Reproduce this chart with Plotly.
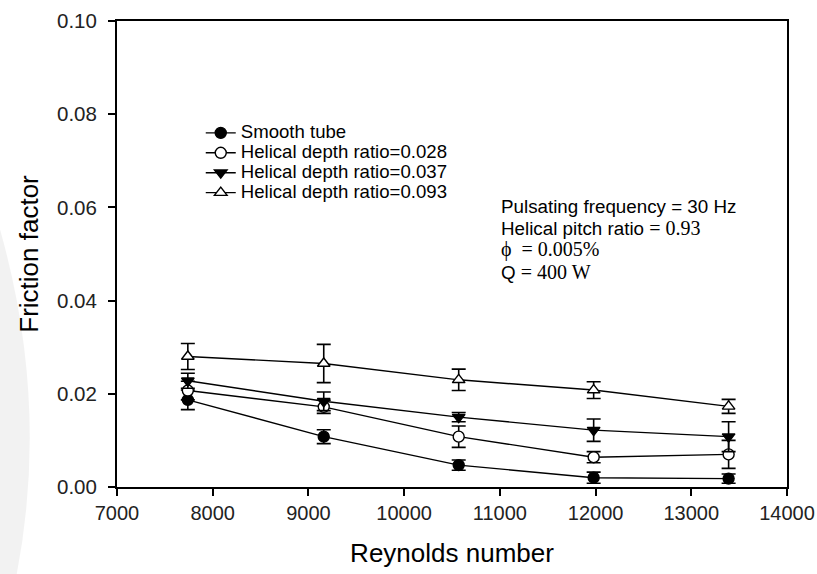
import plotly.graph_objects as go

# Reynolds numbers at which friction factor was measured
reynolds = [7740, 9160, 10570, 11980, 13390]

# Friction factor for each tube configuration
smooth = [0.0187, 0.0108, 0.0047, 0.0020, 0.0018]
depth_028 = [0.0207, 0.0172, 0.0108, 0.0064, 0.0070]
depth_037 = [0.0228, 0.0184, 0.0150, 0.0122, 0.0108]
depth_093 = [0.0280, 0.0265, 0.0230, 0.0208, 0.0173]

# Symmetric error bars (±)
smooth_err = [0.0021, 0.0015, 0.0011, 0.0012, 0.0010]
depth_028_err = [0.0020, 0.0014, 0.0023, 0.0012, 0.0030]
depth_037_err = [0.0016, 0.0020, 0.0010, 0.0024, 0.0032]
depth_093_err = [0.0028, 0.0041, 0.0023, 0.0018, 0.0015]

names = [
    "Smooth tube",
    "Helical depth ratio=0.028",
    "Helical depth ratio=0.037",
    "Helical depth ratio=0.093",
]
series = [smooth, depth_028, depth_037, depth_093]
errors = [smooth_err, depth_028_err, depth_037_err, depth_093_err]
symbols = ["circle", "circle", "triangle-down", "triangle-up"]
fills = ["black", "white", "black", "white"]

x_ticks = [7000, 8000, 9000, 10000, 11000, 12000, 13000, 14000]
y_ticks = [0.00, 0.02, 0.04, 0.06, 0.08, 0.10]

fig = go.Figure()
for name, ys, err, sym, fc in zip(names, series, errors, symbols, fills):
    fig.add_trace(go.Scatter(
        x=reynolds, y=ys, mode="lines+markers",
        name=f'<span style="font-size:18.6px">{name}</span>',
        line=dict(color="black", width=1.4),
        marker=dict(symbol=sym, size=11, color=fc,
                    line=dict(color="black", width=1.4)),
        error_y=dict(type="data", array=err, visible=True,
                     color="black", thickness=1.6, width=7),
    ))

# faint grey crescent along the left edge
fig.add_shape(
    type="path", xref="paper", yref="paper", layer="below",
    path=("M -0.176 0.56 Q -0.10 0.18 -0.150 -0.19 "
          "L -0.176 -0.19 Z"),
    fillcolor="rgba(0,0,0,0.05)", line=dict(width=0),
)

serif = ("font-family:'Liberation Serif','Times New Roman',serif;"
         "font-size:20px")
info_lines = [
    "Pulsating frequency = 30 Hz",
    f"Helical pitch ratio <span style=\"{serif}\">= 0.93</span>",
    f"<span style=\"{serif}\">ϕ  = 0.005%</span>",
    f"Q <span style=\"{serif}\">= 400 W</span>",
]
info_y = [0.0603, 0.0556, 0.0509, 0.0461]
for txt, yy in zip(info_lines, info_y):
    fig.add_annotation(
        x=10990, y=yy, xref="x", yref="y", text=txt, showarrow=False,
        xanchor="left", yanchor="middle",
        font=dict(family="Liberation Sans, Arial", size=18.8, color="black"),
    )

fig.update_layout(
    width=817, height=574,
    margin=dict(l=117, r=30, t=21, b=87, autoexpand=False),
    paper_bgcolor="white", plot_bgcolor="white",
    font=dict(family="Liberation Sans, Arial", color="black"),
    showlegend=True,
    legend=dict(
        x=0.125, y=0.792, xanchor="left", yanchor="top",
        bgcolor="rgba(0,0,0,0)", borderwidth=0,
        font=dict(size=13, color="black"),
        tracegroupgap=0, itemwidth=30,
    ),
    xaxis=dict(
        range=[7000, 14000], tickvals=x_ticks,
        ticktext=[str(v) for v in x_ticks],
        showgrid=False, zeroline=False, automargin=False,
        showline=True, linecolor="black", linewidth=2, mirror=True,
        ticks="outside", ticklen=7, tickwidth=1.5, tickcolor="black",
        tickfont=dict(size=20, color="#222"),
        title=dict(text="Reynolds number", font=dict(size=26), standoff=21),
    ),
    yaxis=dict(
        range=[0, 0.10], tickvals=y_ticks, tickformat=".2f",
        showgrid=False, zeroline=False, automargin=False,
        showline=True, linecolor="black", linewidth=2, mirror=True,
        ticks="outside", ticklen=7, tickwidth=1.5, tickcolor="black",
        ticklabelstandoff=7,
        tickfont=dict(size=20.5, color="#222"),
        title=dict(text="Friction factor", font=dict(size=26), standoff=11),
    ),
)

fig.write_html("out.html")
